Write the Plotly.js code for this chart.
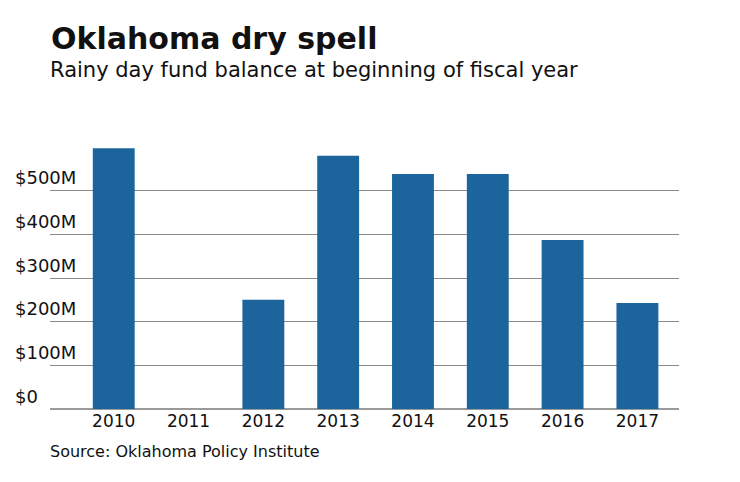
<!DOCTYPE html>
<html>
<head>
<meta charset="utf-8">
<script src="https://cdn.plot.ly/plotly-3.0.1.min.js"></script>
<style>
html,body{margin:0;padding:0;background:#fff;}
#chart{width:740px;height:482px;}
</style>
</head>
<body>
<div id="chart"></div>
<script>
const years = ["2010","2011","2012","2013","2014","2015","2016","2017"];
const balanceMillions = [597, 0, 250, 580, 538, 538, 387, 243];
const yTickValues = [0, 100, 200, 300, 400, 500];
const yTickLabels = ["$0", "$100M", "$200M", "$300M", "$400M", "$500M"];
const titleText = "Oklahoma dry spell";
const subtitleText = "Rainy day fund balance at beginning of fiscal year";
const sourceText = "Source: Oklahoma Policy Institute";

const FONT = "DejaVu Sans, Noto Sans, sans-serif";

const trace = {
  type: "bar",
  x: years,
  y: balanceMillions,
  marker: {color: "#1c659c"},
  hoverinfo: "x+y"
};

const layout = {
  width: 740,
  height: 482,
  margin: {l: 50, r: 61, t: 147, b: 73},
  paper_bgcolor: "#ffffff",
  plot_bgcolor: "#ffffff",
  showlegend: false,
  bargap: 0.44,
  title: {
    text: "<b>" + titleText + "</b>",
    font: {family: FONT, size: 30, color: "#111111"},
    xref: "container", x: 51/740, xanchor: "left",
    yref: "container", y: 1 - 28/482, yanchor: "top"
  },
  xaxis: {
    type: "category",
    range: [-0.852, 7.556],
    showgrid: false,
    zeroline: false,
    showline: false,
    ticks: "",
    tickfont: {family: FONT, size: 17, color: "#111111"},
    fixedrange: true
  },
  yaxis: {
    range: [0, 600],
    tickvals: yTickValues,
    ticktext: yTickLabels,
    ticklabelposition: "inside top",
    ticklabelstandoff: -38,
    showgrid: true,
    gridcolor: "#8a8a8a",
    gridwidth: 1,
    zeroline: true,
    zerolinecolor: "#9a9a9a",
    zerolinewidth: 2,
    showline: false,
    ticks: "",
    tickfont: {family: FONT, size: 18, color: "#111111"},
    fixedrange: true
  },
  annotations: [
    {
      text: subtitleText,
      xref: "paper", yref: "paper",
      x: -2/629, y: (409 - 84)/262,
      xanchor: "left", yanchor: "bottom",
      showarrow: false,
      font: {family: FONT, size: 21, color: "#111111"}
    },
    {
      text: sourceText,
      xref: "paper", yref: "paper",
      x: -2/629, y: (409 - 463)/262,
      xanchor: "left", yanchor: "bottom",
      showarrow: false,
      font: {family: FONT, size: 16, color: "#111111"}
    }
  ]
};

Plotly.newPlot("chart", [trace], layout, {displayModeBar: false, staticPlot: true});
</script>
</body>
</html>
